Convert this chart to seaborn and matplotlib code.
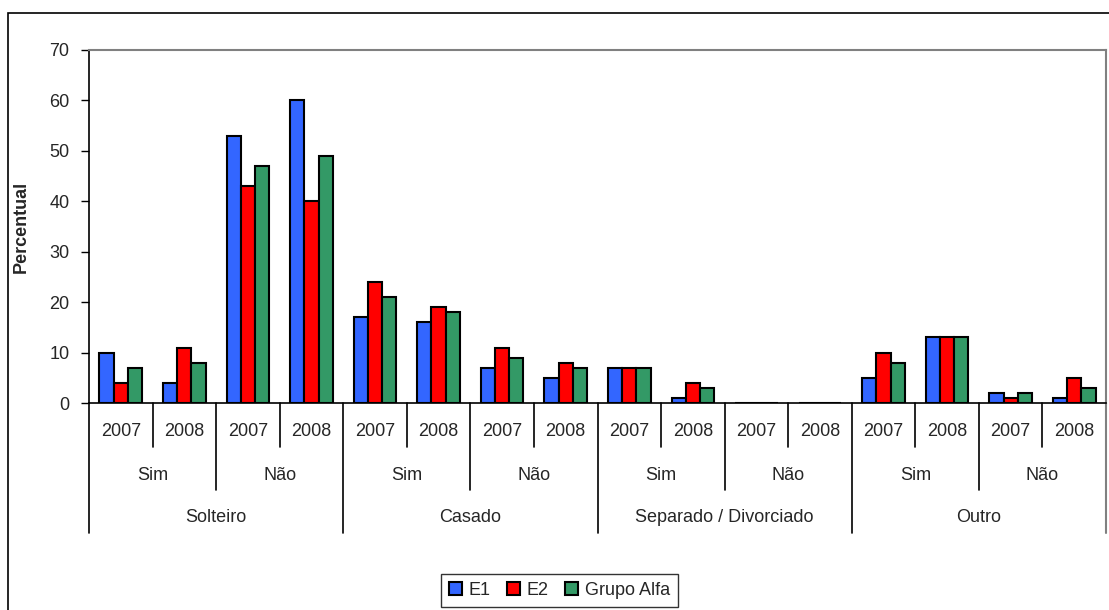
import seaborn as sns
import matplotlib.pyplot as plt
import matplotlib.transforms as mtransforms
from matplotlib.patches import Rectangle
import pandas as pd

# data
estados = ["Solteiro", "Casado", "Separado / Divorciado", "Outro"]
respostas = ["Sim", "Não"]
anos = ["2007", "2008"]
series = ["E1", "E2", "Grupo Alfa"]

e1 = [10, 4, 53, 60, 17, 16, 7, 5, 7, 1, 0, 0, 5, 13, 2, 1]
e2 = [4, 11, 43, 40, 24, 19, 11, 8, 7, 4, 0, 0, 10, 13, 1, 5]
alfa = [7, 8, 47, 49, 21, 18, 9, 7, 7, 3, 0, 0, 8, 13, 2, 3]

cores = ["#3366FF", "#FF0000", "#339966"]

# long table
keys = [f"{e}|{r}|{a}" for e in estados for r in respostas for a in anos]
rows = []
for nome, vals in zip(series, [e1, e2, alfa]):
    for k, v in zip(keys, vals):
        rows.append({"grupo": k, "serie": nome, "valor": v})
df = pd.DataFrame(rows)

sns.set_style("ticks")
plt.rcParams["font.family"] = ["Liberation Sans", "DejaVu Sans"]
fs = 13

W, H = 1109, 610
fig = plt.figure(figsize=(W / 100, H / 100), dpi=100)
ax_l, ax_r, ax_t, ax_b = 89, 1106, 50, 403
ax = fig.add_axes([ax_l / W, 1 - ax_b / H, (ax_r - ax_l) / W, (ax_b - ax_t) / H])

sns.barplot(
    data=df,
    x="grupo",
    y="valor",
    hue="serie",
    order=keys,
    hue_order=series,
    palette=cores,
    width=0.67,
    gap=0,
    edgecolor="black",
    linewidth=1.5,
    saturation=1,
    ax=ax,
)

ax.set_xlim(-0.5, len(keys) - 0.5)
ax.set_ylim(0, 70)
ax.set_yticks(range(0, 71, 10))
ax.tick_params(axis="y", labelsize=fs, length=6, width=1, color="black", pad=8)
ax.set_xticks([])
ax.set(xlabel=None)
ax.set_ylabel("Percentual", fontsize=fs, fontweight="bold", labelpad=14)
for s in ["left", "bottom"]:
    ax.spines[s].set_color("black")
    ax.spines[s].set_linewidth(1.2)
for s in ["top", "right"]:
    ax.spines[s].set_color("#808080")
    ax.spines[s].set_linewidth(1.5)

# hierarchical category axis
trans = mtransforms.blended_transform_factory(ax.transData, ax.transAxes)
hpx = ax_b - ax_t


def yfrac(ypx):
    return (ax_b - ypx) / hpx


n = len(keys)
for i in range(n + 1):
    xb = i - 0.5
    if i % 4 == 0:
        yend = 533
    elif i % 2 == 0:
        yend = 490
    else:
        yend = 447
    col = "#808080" if i == n else "black"
    ax.plot([xb, xb], [0, yfrac(yend)], color=col, lw=1.2 if i < n else 1.5,
            transform=trans, clip_on=False)

for i, k in enumerate(keys):
    ax.text(i, yfrac(432), k.split("|")[2], ha="center", va="center",
            fontsize=fs, transform=trans)
for j in range(n // 2):
    ax.text(2 * j + 0.5, yfrac(475), respostas[j % 2], ha="center", va="center",
            fontsize=fs, transform=trans)
for j, e in enumerate(estados):
    ax.text(4 * j + 1.5, yfrac(517), e, ha="center", va="center",
            fontsize=fs, transform=trans)

# legend
handles, labels = ax.get_legend_handles_labels()
ax.legend_.remove()
leg = fig.legend(
    handles, labels,
    loc="center",
    bbox_to_anchor=(559.5 / W, 1 - 590.5 / H),
    ncol=3,
    fontsize=fs,
    frameon=True,
    fancybox=False,
    edgecolor="black",
    handlelength=0.7,
    handleheight=0.7,
    handletextpad=0.4,
    columnspacing=0.9,
    borderpad=0.45,
)
leg.get_frame().set_linewidth(1.0)

# outer chart border
fig.patches.append(Rectangle((8 / W, -0.05), 1.2, 1 - 13 / H + 0.05,
                             transform=fig.transFigure, fill=False,
                             edgecolor="black", lw=1.2))

fig.savefig("out.png", dpi=100)
plt.close()
